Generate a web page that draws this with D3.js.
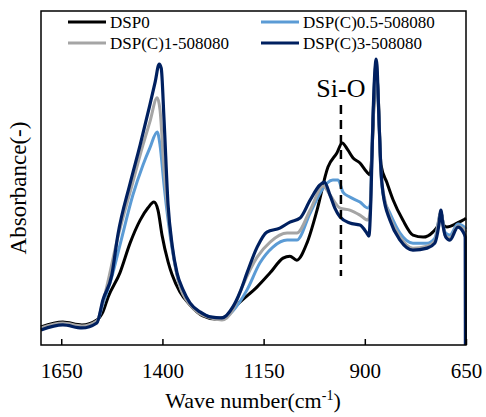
<!DOCTYPE html>
<html>
<head>
<meta charset="utf-8">
<script src="https://cdn.jsdelivr.net/npm/d3@7"></script>
<style>
  body { margin: 0; background: #fff; }
</style>
</head>
<body>
<svg id="chart" width="486" height="417"></svg>
<script>
// FTIR spectra, [wave number (cm-1), absorbance (a.u.)]
const dsp0 = [
  [1700, 0.054], [1646, 0.069], [1599, 0.060], [1562, 0.075], [1547, 0.099], [1534, 0.144],
  [1505, 0.216], [1480, 0.305], [1455, 0.374], [1436, 0.410], [1421, 0.428], [1411, 0.404],
  [1401, 0.329], [1386, 0.249], [1376, 0.210], [1357, 0.159], [1332, 0.120], [1300, 0.087],
  [1270, 0.078], [1245, 0.084], [1226, 0.108], [1208, 0.129], [1166, 0.174], [1134, 0.216],
  [1102, 0.260], [1085, 0.266], [1068, 0.254], [1043, 0.305], [1018, 0.404], [991, 0.533],
  [969, 0.575], [956, 0.605], [942, 0.584], [929, 0.560], [912, 0.545], [895, 0.518],
  [887, 0.509], [882, 0.584], [877, 0.734], [872, 0.829], [867, 0.749], [860, 0.539],
  [845, 0.485], [830, 0.434], [806, 0.374], [781, 0.329], [756, 0.323], [732, 0.338],
  [719, 0.359], [712, 0.398], [705, 0.359], [697, 0.353], [672, 0.365], [657, 0.374], [650, 0.380]
];
const dspC05 = [
  [1700, 0.048], [1646, 0.063], [1599, 0.054], [1562, 0.069], [1547, 0.123], [1525, 0.204],
  [1505, 0.299], [1473, 0.449], [1448, 0.539], [1431, 0.590], [1413, 0.638], [1406, 0.599],
  [1396, 0.479], [1386, 0.374], [1364, 0.210], [1332, 0.123], [1282, 0.084], [1253, 0.078],
  [1226, 0.102], [1191, 0.165], [1159, 0.246], [1127, 0.293], [1092, 0.314], [1068, 0.314],
  [1035, 0.395], [1003, 0.470], [993, 0.485], [979, 0.494], [966, 0.494], [954, 0.458],
  [937, 0.443], [912, 0.428], [892, 0.410], [887, 0.419], [880, 0.674], [872, 0.841],
  [865, 0.674], [860, 0.509], [853, 0.440], [838, 0.395], [813, 0.335], [781, 0.305],
  [746, 0.305], [727, 0.320], [712, 0.395], [702, 0.338], [690, 0.329], [670, 0.362],
  [652, 0.350], [650, 0.347]
];
const dspC1 = [
  [1700, 0.051], [1646, 0.066], [1599, 0.057], [1562, 0.072], [1547, 0.129], [1510, 0.323],
  [1473, 0.488], [1448, 0.599], [1431, 0.668], [1413, 0.740], [1406, 0.704], [1396, 0.524],
  [1386, 0.395], [1364, 0.210], [1332, 0.120], [1282, 0.081], [1253, 0.075], [1226, 0.105],
  [1203, 0.174], [1166, 0.263], [1134, 0.308], [1092, 0.335], [1068, 0.335], [1035, 0.404],
  [1003, 0.476], [986, 0.449], [961, 0.410], [937, 0.404], [912, 0.389], [892, 0.374],
  [887, 0.398], [880, 0.674], [872, 0.847], [865, 0.674], [860, 0.509], [853, 0.449],
  [838, 0.383], [813, 0.323], [781, 0.290], [746, 0.296], [727, 0.311], [712, 0.398],
  [702, 0.329], [690, 0.320], [670, 0.356], [652, 0.341], [650, 0.338]
];
const dspC3 = [
  [1700, 0.045], [1646, 0.060], [1599, 0.051], [1562, 0.066], [1547, 0.135], [1525, 0.210],
  [1510, 0.330], [1480, 0.483], [1455, 0.599], [1431, 0.719], [1418, 0.787], [1408, 0.841],
  [1403, 0.829], [1396, 0.674], [1386, 0.419], [1376, 0.299], [1364, 0.216], [1349, 0.165],
  [1332, 0.126], [1307, 0.099], [1282, 0.084], [1253, 0.081], [1226, 0.114], [1208, 0.159],
  [1191, 0.216], [1166, 0.293], [1142, 0.338], [1110, 0.350], [1085, 0.368], [1060, 0.380],
  [1035, 0.434], [1011, 0.479], [1000, 0.488], [986, 0.449], [974, 0.410], [961, 0.383],
  [937, 0.365], [912, 0.359], [895, 0.335], [890, 0.326], [885, 0.434], [880, 0.674],
  [875, 0.823], [872, 0.856], [870, 0.838], [865, 0.674], [860, 0.524], [855, 0.455],
  [838, 0.374], [813, 0.314], [781, 0.284], [746, 0.290], [727, 0.305], [717, 0.359],
  [712, 0.404], [707, 0.359], [700, 0.323], [690, 0.314], [670, 0.353], [657, 0.338],
  [652, 0.323], [651.5, 0]
];

const seriesNames = ['DSP0', 'DSP(C)0.5-508080', 'DSP(C)1-508080', 'DSP(C)3-508080'];
const seriesColors = ['#000000', '#5b9bd5', '#a5a5a5', '#002060'];
const seriesData = [dsp0, dspC05, dspC1, dspC3];
const xTicks = [1650, 1400, 1150, 900, 650];
const siOPeak = 959; // wave number of the Si-O marker

const serif = 'Liberation Serif';

const margin = { top: 11, right: 20, bottom: 72, left: 41 };
const width = 486;
const height = 417;

const svg = d3.select('#chart');

const x = d3.scaleLinear()
  .domain([1700, 650])
  .range([margin.left, width - margin.right]);
const y = d3.scaleLinear()
  .domain([0, 1])
  .range([height - margin.bottom, margin.top]);

const line = d3.line()
  .curve(d3.curveMonotoneX)
  .x((d) => x(d[0]))
  .y((d) => y(d[1]));

// draw curves, DSP(C)3 on top
const drawOrder = [0, 1, 2, 3];
svg.append('g')
  .selectAll('path')
  .data(drawOrder)
  .enter()
  .append('path')
  .attr('d', (i) => line(seriesData[i]))
  .attr('fill', 'none')
  .attr('stroke', (i) => seriesColors[i])
  .attr('stroke-width', (i) => (i === 3 ? 3.2 : 3))
  .attr('stroke-linejoin', 'round');

// Si-O marker
svg.append('line')
  .attr('x1', x(siOPeak))
  .attr('x2', x(siOPeak))
  .attr('y1', 105)
  .attr('y2', 276)
  .attr('stroke', '#000')
  .attr('stroke-width', 2.5)
  .attr('stroke-dasharray', '9,6');

svg.append('text')
  .attr('x', x(siOPeak))
  .attr('y', 97)
  .attr('text-anchor', 'middle')
  .attr('font-family', serif)
  .attr('font-size', 26)
  .text('Si-O');

// x axis, ticks pointing inward
const xAxis = d3.axisBottom(x)
  .tickValues(xTicks)
  .tickFormat(d3.format('d'))
  .tickSizeInner(-6)
  .tickSizeOuter(0)
  .tickPadding(18);

const gx = svg.append('g')
  .attr('transform', `translate(0,${height - margin.bottom})`)
  .call(xAxis);
gx.select('.domain').remove();
gx.selectAll('.tick line').attr('stroke-width', 1.5);
gx.selectAll('.tick text')
  .attr('fill', '#000')
  .attr('font-family', serif)
  .attr('font-size', 21);

// frame
svg.append('rect')
  .attr('x', margin.left)
  .attr('y', margin.top)
  .attr('width', width - margin.left - margin.right)
  .attr('height', height - margin.top - margin.bottom)
  .attr('fill', 'none')
  .attr('stroke', '#000')
  .attr('stroke-width', 1.5);

// axis titles
const xLabel = svg.append('text')
  .attr('x', 253)
  .attr('y', 408)
  .attr('text-anchor', 'middle')
  .attr('font-family', serif)
  .attr('font-size', 22);
xLabel.append('tspan').text('Wave number(cm');
xLabel.append('tspan').attr('font-size', 14).attr('dy', -8).text('-1');
xLabel.append('tspan').attr('dy', 8).text(')');

svg.append('text')
  .attr('transform', 'translate(26,188) rotate(-90)')
  .attr('text-anchor', 'middle')
  .attr('font-family', serif)
  .attr('font-size', 23)
  .text('Absorbance(-)');

// legend, two columns
const legendPos = [[68, 22], [261, 22], [68, 43], [261, 43]];
const legend = svg.append('g')
  .selectAll('g')
  .data(seriesNames)
  .enter()
  .append('g')
  .attr('transform', (d, i) => `translate(${legendPos[i][0]},${legendPos[i][1]})`);

legend.append('line')
  .attr('x1', 0)
  .attr('x2', 38)
  .attr('stroke', (d, i) => seriesColors[i])
  .attr('stroke-width', 3);

legend.append('text')
  .attr('x', 42)
  .attr('y', 6)
  .attr('font-family', serif)
  .attr('font-size', 17)
  .text((d) => d);
</script>
</body>
</html>
